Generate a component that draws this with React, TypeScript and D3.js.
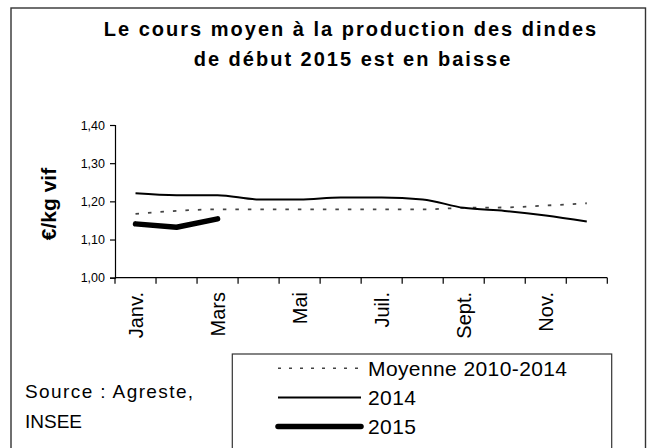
import React, { useEffect, useRef } from "react";
import * as d3 from "d3";

const months = ["Janv.", "Févr.", "Mars", "Avr.", "Mai", "Juin", "Juil.", "Août", "Sept.", "Oct.", "Nov.", "Déc."];
const shownLabels = ["Janv.", "Mars", "Mai", "Juil.", "Sept.", "Nov."];
const moyenne = [1.167, 1.175, 1.179, 1.179, 1.179, 1.179, 1.179, 1.179, 1.183, 1.184, 1.189, 1.195];
const v2014 = [1.221, 1.216, 1.216, 1.205, 1.205, 1.21, 1.21, 1.205, 1.183, 1.175, 1.163, 1.147];
const v2015 = [1.141, 1.132, 1.154];
const yTicks = [1.0, 1.1, 1.2, 1.3, 1.4];

const FONT = "'Liberation Sans', Arial, sans-serif";

const App = () => {
  const svgRef = useRef<SVGSVGElement>(null);
  const width = 655, height = 448;

  useEffect(() => {
    const svg = d3.select(svgRef.current);
    svg.selectAll("*").remove();

    // outer frame
    svg.append("rect")
      .attr("x", 11).attr("y", 8)
      .attr("width", 634.5).attr("height", 460)
      .attr("fill", "white").attr("stroke", "#333").attr("stroke-width", 1.4);

    // title
    const title = svg.append("text")
      .attr("font-family", FONT).attr("font-weight", "bold")
      .attr("font-size", 20).attr("letter-spacing", 2)
      .attr("text-anchor", "middle").attr("fill", "#000");
    title.append("tspan").attr("x", 351).attr("y", 36).text("Le cours moyen à la production des dindes");
    title.append("tspan").attr("x", 353).attr("y", 66).text("de début 2015 est en baisse");

    const x = d3.scaleBand().domain(months).range([115, 607.3]);
    const y = d3.scaleLinear().domain([1, 1.4]).range([277.7, 125]);
    const cx = (i: number) => (x(months[i]) as number) + x.bandwidth() / 2;

    // y axis
    const yAxis = svg.append("g")
      .attr("transform", "translate(115,0)")
      .call(d3.axisLeft(y).tickValues(yTicks).tickSize(5).tickPadding(5)
        .tickFormat(d => d3.format(".2f")(d as number).replace(".", ",")));
    yAxis.select(".domain").attr("stroke", "#000").attr("stroke-width", 1.2);
    yAxis.selectAll(".tick line").attr("stroke", "#000").attr("stroke-width", 1.2);
    yAxis.selectAll(".tick text").attr("font-family", FONT).attr("font-size", 12.5).attr("fill", "#000");

    // x axis: ticks at band edges
    const xg = svg.append("g");
    xg.append("line")
      .attr("x1", 115).attr("x2", 607.3)
      .attr("y1", y(1)).attr("y2", y(1))
      .attr("stroke", "#000").attr("stroke-width", 1.2);
    xg.selectAll("line.tk")
      .data(d3.range(months.length + 1))
      .enter().append("line")
      .attr("class", "tk")
      .attr("x1", i => 115 + i * x.step()).attr("x2", i => 115 + i * x.step())
      .attr("y1", y(1)).attr("y2", y(1) + 6)
      .attr("stroke", "#000").attr("stroke-width", 1.2);
    xg.selectAll("text")
      .data(shownLabels)
      .enter().append("text")
      .attr("transform", d => `translate(${(x(d) as number) + x.bandwidth() / 2},292) rotate(-90)`)
      .attr("dy", "0.36em")
      .attr("text-anchor", "end")
      .attr("font-family", FONT).attr("font-size", 20).attr("fill", "#000")
      .text(d => d);

    // y axis title
    svg.append("text")
      .attr("transform", "translate(48,204) rotate(-90)")
      .attr("dy", "0.36em")
      .attr("text-anchor", "middle")
      .attr("font-family", FONT).attr("font-weight", "bold").attr("font-size", 21)
      .text("€/kg vif");

    const smooth = d3.line<number>().x((d, i) => cx(i)).y(d => y(d)).curve(d3.curveMonotoneX);
    const straight = d3.line<number>().x((d, i) => cx(i)).y(d => y(d));

    svg.append("path").attr("d", smooth(moyenne))
      .attr("fill", "none").attr("stroke", "#444").attr("stroke-width", 1.8)
      .attr("stroke-dasharray", "3.5 9");
    svg.append("path").attr("d", smooth(v2014))
      .attr("fill", "none").attr("stroke", "#000").attr("stroke-width", 2);
    svg.append("path").attr("d", straight(v2015))
      .attr("fill", "none").attr("stroke", "#000").attr("stroke-width", 5.5)
      .attr("stroke-linecap", "round").attr("stroke-linejoin", "round");

    // source
    const src = svg.append("text").attr("font-family", FONT).attr("font-size", 19).attr("fill", "#000");
    src.append("tspan").attr("x", 25).attr("y", 398).attr("letter-spacing", 1.4).text("Source : Agreste,");
    src.append("tspan").attr("x", 25).attr("y", 428).text("INSEE");

    // legend
    const lg = svg.append("g");
    lg.append("rect")
      .attr("x", 232.3).attr("y", 354)
      .attr("width", 379.4).attr("height", 110)
      .attr("fill", "white").attr("stroke", "#333").attr("stroke-width", 1.2);
    const items = [
      { label: "Moyenne 2010-2014", w: 1.6, dash: "3 8", color: "#444", yy: 368.3 },
      { label: "2014", w: 2, dash: null, color: "#000", yy: 397.5 },
      { label: "2015", w: 5.5, dash: null, color: "#000", yy: 426.5 },
    ];
    items.forEach(it => {
      lg.append("line")
        .attr("x1", 278).attr("x2", 361)
        .attr("y1", it.yy).attr("y2", it.yy)
        .attr("stroke", it.color).attr("stroke-width", it.w)
        .attr("stroke-dasharray", it.dash)
        .attr("stroke-linecap", it.w > 3 ? "round" : "butt");
      lg.append("text")
        .attr("x", 368).attr("y", it.yy).attr("dy", "0.36em")
        .attr("font-family", FONT).attr("font-size", 21).attr("letter-spacing", 0.4)
        .attr("fill", "#000")
        .text(it.label);
    });
  }, []);

  return (
    <svg ref={svgRef} width={width} height={height}
      style={{ position: "absolute", left: 0, top: 0, display: "block", background: "white" }} />
  );
};

export default App;
